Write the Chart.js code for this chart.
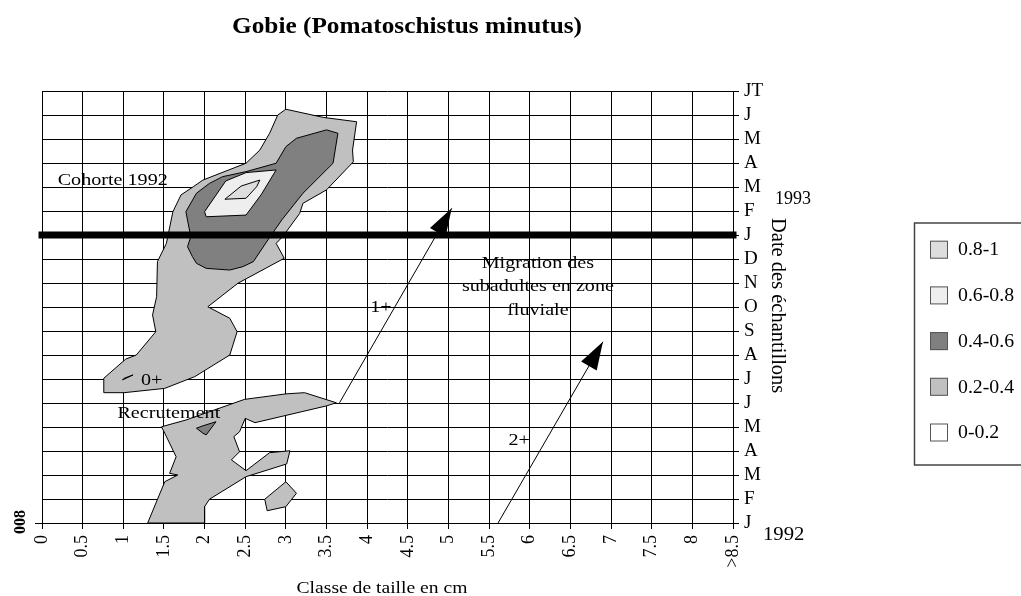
<!DOCTYPE html>
<html>
<head>
<meta charset="utf-8">
<script src="https://cdn.jsdelivr.net/npm/chart.js@4.4.0/dist/chart.umd.min.js"></script>
<style>
  body { margin: 0; background: #fff; }
  #wrap { width: 1021px; height: 596px; }
</style>
</head>
<body>
<div id="wrap"><canvas id="chart" width="1021" height="596"></canvas></div>
<script>
// axes
const sizeClasses = ['0', '0.5', '1', '1.5', '2', '2.5', '3', '3.5', '4', '4.5', '5', '5.5', '6', '6.5', '7', '7.5', '8', '>8.5'];
const sampleMonths = ['J', 'F', 'M', 'A', 'M', 'J', 'J', 'A', 'S', 'O', 'N', 'D', 'J', 'F', 'M', 'A', 'M', 'J', 'JT'];
const levelLabels = ['0.8-1', '0.6-0.8', '0.4-0.6', '0.2-0.4', '0-0.2'];

// contours, [taille cm, index du mois]
const cohort92Outer = [[3.0,17.24],[3.46,16.9],[3.87,16.72],[3.82,15.54],[3.83,15.05],[3.5,13.88],[3.21,13.32],[3.17,12.9],[2.96,11.93],[2.88,11.65],[2.98,11.03],[2.41,9.99],[2.04,9.01],[2.31,8.53],[2.4,7.97],[2.31,7.0],[1.88,6.1],[1.51,5.61],[1.01,5.43],[0.76,5.43],[0.76,6.03],[1.03,6.83],[1.16,7.0],[1.4,7.97],[1.36,8.67],[1.41,9.43],[1.42,10.89],[1.53,11.65],[1.61,12.97],[1.71,13.67],[1.86,14.01],[1.98,14.29],[2.35,14.78],[2.51,14.99],[2.68,15.54],[2.8,16.24],[2.9,17.0]];
const cohort92Mid = [[3.5,16.38],[3.64,16.24],[3.58,14.99],[3.21,13.74],[2.95,12.63],[2.78,11.8],[2.6,10.89],[2.47,10.68],[2.31,10.54],[2.02,10.61],[1.9,10.82],[1.85,11.1],[1.79,11.51],[1.83,11.93],[1.77,12.97],[1.9,13.74],[2.06,14.15],[2.22,14.43],[2.51,14.64],[2.88,14.99],[3.0,15.68],[3.13,16.03]];
const cohort92Peak = [[2.0,12.97],[2.02,12.76],[2.51,12.83],[2.7,13.7],[2.88,14.71],[2.51,14.6],[2.26,14.25]];
const cohort92Core = [[2.25,13.49],[2.45,14.04],[2.68,14.29],[2.64,14.01],[2.51,13.53]];
const recruitOuter = [[1.47,4.01],[1.77,4.29],[2.49,5.15],[3.0,5.38],[3.23,5.43],[3.62,5.01],[3.5,4.88],[2.62,4.18],[2.5,4.36],[2.43,3.8],[2.36,3.6],[2.43,2.97],[2.33,2.63],[2.51,2.18],[2.8,2.93],[3.05,3.01],[3.01,2.46],[2.51,1.93],[2.06,0.99],[2.0,0.68],[2.0,0],[1.3,0],[1.51,1.72],[1.67,2.0],[1.57,2.07],[1.65,2.76],[1.61,3.04],[1.51,3.74]];
const recruitCore = [[1.9,3.95],[1.98,3.74],[2.02,3.67],[2.14,4.22],[1.98,4.05]];
const juvenileSpot = [[0.99,5.96],[1.12,6.17],[1.01,6.03]];
const smallPatch = [[2.74,0.99],[2.77,0.51],[3.0,0.68],[3.13,1.24],[3.0,1.72]];

const contours = [
    { pts: cohort92Outer, level: 3 },
    { pts: recruitOuter, level: 3 },
    { pts: smallPatch, level: 3 },
    { pts: cohort92Mid, level: 2 },
    { pts: recruitCore, level: 2 },
    { pts: juvenileSpot, level: 2 },
    { pts: cohort92Peak, level: 1 },
    { pts: cohort92Core, level: 0 }
];

// janvier 1993 et fleches de migration
const yearBreak = 12;
const arrow1plus = [[3.66,5.01],[5.04,13.11]];
const arrow2plus = [[5.61,0],[6.9,7.55]];

const notes = [
    { text: 'Cohorte 1992', x: 0.87, y: 14.29 },
    { text: '0+', x: 1.35, y: 5.96 },
    { text: 'Recrutement', x: 1.56, y: 4.57 },
    { text: '1+', x: 4.17, y: 8.97 },
    { text: 'Migration des', x: 6.1, y: 10.82 },
    { text: 'subadultes en zone', x: 6.1, y: 9.85 },
    { text: 'fluviale', x: 6.1, y: 8.85 },
    { text: '2+', x: 5.87, y: 3.46 }
];

const levelColors = ['#dddddd', '#eeeeee', '#808080', '#c0c0c0', '#ffffff'];
const FONT = '"Liberation Serif", "Times New Roman", serif';

function toXY(pts) {
    return pts.map(p => ({ x: p[0], y: p[1] }));
}

function drawText(ctx, text, x, y, size, opts) {
    opts = opts || {};
    ctx.save();
    ctx.translate(x, y);
    ctx.scale(opts.sx || 1.15, 1);
    ctx.font = (opts.bold ? 'bold ' : '') + size + 'px ' + FONT;
    ctx.fillStyle = '#000';
    ctx.textAlign = opts.align || 'center';
    ctx.textBaseline = opts.baseline || 'middle';
    ctx.fillText(text, 0, 0);
    ctx.restore();
}

const datasets = [];
contours.forEach(c => {
    datasets.push({
        type: 'scatter',
        label: levelLabels[c.level],
        data: toXY(c.pts.concat([c.pts[0]])),
        showLine: true,
        fill: 'shape',
        backgroundColor: levelColors[c.level],
        borderColor: '#000',
        borderWidth: 1,
        pointRadius: 0,
        tension: 0,
        order: 10 + c.level
    });
});
datasets.push({
    type: 'scatter', label: 'janvier 1993',
    data: [{ x: 0, y: yearBreak }, { x: 8.5, y: yearBreak }],
    showLine: true, borderColor: '#000', borderWidth: 7, borderCapStyle: 'square',
    pointRadius: 0, clip: false, order: 1
});
[arrow1plus, arrow2plus].forEach((a, i) => {
    datasets.push({
        type: 'scatter', label: 'arrow' + i,
        data: toXY(a),
        showLine: true, borderColor: '#000', borderWidth: 1,
        pointRadius: 0, order: 0
    });
});

const overlay = {
    id: 'overlay',
    afterDraw(chart) {
        const ctx = chart.ctx;
        const xs = chart.scales.x, ys = chart.scales.y;

        // pointes des fleches
        chart.data.datasets.forEach((ds, i) => {
            if (!ds.label.startsWith('arrow')) return;
            const pts = chart.getDatasetMeta(i).data;
            const a = pts[0], b = pts[1];
            const ang = Math.atan2(b.y - a.y, b.x - a.x);
            ctx.save();
            ctx.translate(b.x, b.y);
            ctx.rotate(ang);
            ctx.beginPath();
            ctx.moveTo(0, 0);
            ctx.lineTo(-28, -9);
            ctx.lineTo(-28, 9);
            ctx.closePath();
            ctx.fillStyle = '#000';
            ctx.fill();
            ctx.restore();
        });

        notes.forEach(n => {
            drawText(ctx, n.text, xs.getPixelForValue(n.x), ys.getPixelForValue(n.y), 17.5);
        });

        drawText(ctx, 'Gobie (Pomatoschistus minutus)', 407, 33, 23, { bold: true, sx: 1.1, baseline: 'alphabetic' });
        drawText(ctx, 'Classe de taille en cm', 382, 593, 17.5, { sx: 1.12, baseline: 'alphabetic' });
        drawText(ctx, '1993', 775, 204, 18, { align: 'left', sx: 1.0, baseline: 'alphabetic' });
        drawText(ctx, '1992', 763, 540, 18, { align: 'left', sx: 1.15, baseline: 'alphabetic' });

        ctx.save();
        ctx.translate(772, 218);
        ctx.rotate(Math.PI / 2);
        ctx.font = '20.5px ' + FONT;
        ctx.fillStyle = '#000';
        ctx.textAlign = 'left';
        ctx.textBaseline = 'alphabetic';
        ctx.fillText('Date des échantillons', 0, 0);
        ctx.restore();

        // residu d'axe a gauche
        ctx.save();
        ctx.translate(25, 522);
        ctx.rotate(-Math.PI / 2);
        ctx.font = 'bold 16px ' + FONT;
        ctx.fillStyle = '#000';
        ctx.textAlign = 'center';
        ctx.textBaseline = 'alphabetic';
        ctx.fillText('008', 0, 0);
        ctx.restore();
        ctx.beginPath();
        ctx.moveTo(35, 523.5);
        ctx.lineTo(43, 523.5);
        ctx.strokeStyle = '#000';
        ctx.lineWidth = 1;
        ctx.stroke();

        // legende
        ctx.save();
        ctx.strokeStyle = '#444';
        ctx.lineWidth = 1.5;
        ctx.beginPath();
        ctx.moveTo(1030, 223);
        ctx.lineTo(914.5, 223);
        ctx.lineTo(914.5, 465);
        ctx.lineTo(1030, 465);
        ctx.stroke();
        levelLabels.forEach((lab, i) => {
            const cy = 249.7 + i * 45.7;
            ctx.fillStyle = levelColors[i];
            ctx.fillRect(930, cy - 9, 18, 18);
            ctx.strokeStyle = '#555';
            ctx.lineWidth = 1;
            ctx.strokeRect(930.5, cy - 8.5, 17, 17);
            drawText(ctx, lab, 958, cy + 1, 18, { align: 'left', sx: 1.1 });
        });
        ctx.restore();
    }
};

new Chart(document.getElementById('chart'), {
    data: { datasets: datasets },
    options: {
        responsive: false,
        animation: false,
        events: [],
        layout: { padding: { left: 42, top: 91, right: 0, bottom: 0 } },
        plugins: {
            legend: { display: false },
            tooltip: { enabled: false },
            title: { display: false }
        },
        scales: {
            x: {
                type: 'linear',
                position: 'bottom',
                min: 0,
                max: 8.5,
                afterFit(scale) { scale.height = 73; },
                afterBuildTicks(scale) {
                    scale.ticks = sizeClasses.map((s, i) => ({ value: i * 0.5 }));
                },
                ticks: {
                    autoSkip: false,
                    minRotation: 90,
                    maxRotation: 90,
                    padding: 6,
                    color: '#000',
                    font: { family: FONT, size: 18 },
                    callback: (v, i) => sizeClasses[i]
                },
                grid: { color: '#000', lineWidth: 1, tickLength: 6, tickColor: '#000' },
                border: { color: '#000', width: 1 }
            },
            y: {
                type: 'linear',
                position: 'right',
                min: 0,
                max: 18,
                afterFit(scale) { scale.width = 288; },
                ticks: {
                    stepSize: 1,
                    autoSkip: false,
                    padding: 5,
                    color: '#000',
                    font: { family: FONT, size: 19 },
                    callback: v => sampleMonths[v]
                },
                grid: { color: '#000', lineWidth: 1, tickLength: 6, tickColor: '#000' },
                border: { color: '#000', width: 1 }
            }
        }
    },
    plugins: [overlay]
});
</script>
</body>
</html>
